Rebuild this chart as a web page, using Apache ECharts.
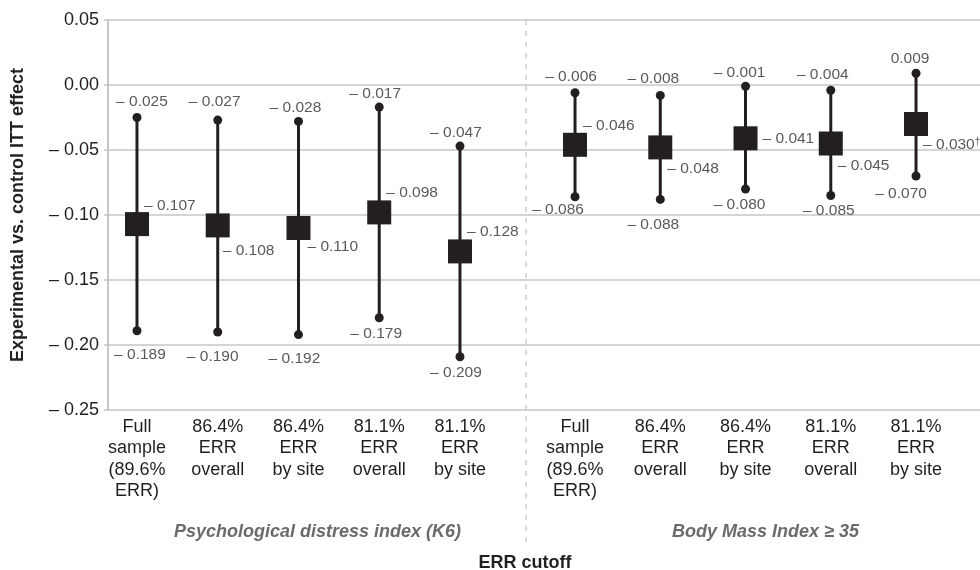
<!DOCTYPE html>
<html>
<head>
<meta charset="utf-8">
<script src="https://cdn.jsdelivr.net/npm/echarts@6/dist/echarts.min.js"></script>
<style>
  html, body { margin: 0; padding: 0; background: #fff; }
  #chart { width: 980px; height: 570px; }
</style>
</head>
<body>
<div id="chart"></div>
<script>
// ERR cutoff categories, shared by both outcome panels
const categories = [
  'Full\nsample\n(89.6%\nERR)',
  '86.4%\nERR\noverall',
  '86.4%\nERR\nby site',
  '81.1%\nERR\noverall',
  '81.1%\nERR\nby site'
];
const groupNames = ['Psychological distress index (K6)', 'Body Mass Index \u2265 35'];

// Psychological distress index (K6): upper CI, ITT effect, lower CI
const k6Upper  = [-0.025, -0.027, -0.028, -0.017, -0.047];
const k6Effect = [-0.107, -0.108, -0.110, -0.098, -0.128];
const k6Lower  = [-0.189, -0.190, -0.192, -0.179, -0.209];

// Body Mass Index >= 35: upper CI, ITT effect, lower CI
const bmiUpper  = [-0.006, -0.008, -0.001, -0.004, 0.009];
const bmiEffect = [-0.046, -0.048, -0.041, -0.045, -0.030];
const bmiLower  = [-0.086, -0.088, -0.080, -0.085, -0.070];
const bmiNotes  = ['', '', '', '', '\u2020'];

// value axis
const yMin = -0.25, yMax = 0.05, yStep = 0.05;

// label nudges [dx, dy] so numbers stay clear of the bars and gridlines
const k6UpperOff   = [[5,-16],[-3,-18],[-3,-14],[-4,-13],[-4,-13]];
const k6LowerOff   = [[3,24],[-5,25],[-4,24],[-3,16],[-4,16]];
const k6EffectOff  = [[-5,-18],[-7,25],[-3,19],[-5,-20],[-5,-20]];
const bmiUpperOff  = [[-4,-16],[-7,-17],[-6,-14],[-8,-15],[-6,-15]];
const bmiLowerOff  = [[-17,13],[-7,25],[-6,16],[-2,15],[-15,18]];
const bmiEffectOff = [[-4,-19],[-5,21],[5,0],[-5,22],[-5,21]];

const FONT = "'Liberation Sans', Arial, Helvetica, sans-serif";
const INK = '#231f20';
const GRID_GREY = '#c6c6c6';
const LABEL_GREY = '#5a5a5a';

function fmt(v) {
  const s = Math.abs(v).toFixed(3);
  return v < 0 ? '\u2013 ' + s : s;
}

function panelSeries(idx, upper, effect, lower, notes, upOff, loOff, efOff) {
  const axis = { xAxisIndex: idx, yAxisIndex: idx };
  const valueLabel = { fontFamily: FONT, fontSize: 15.5, color: LABEL_GREY };
  const mark = { color: INK, opacity: 1 };
  return [
    {
      type: 'custom', ...axis, z: 2,
      data: categories.map((c, i) => [i, lower[i], upper[i]]),
      encode: { x: 0, y: [1, 2] },
      renderItem: function (params, api) {
        const a = api.coord([api.value(0), api.value(1)]);
        const b = api.coord([api.value(0), api.value(2)]);
        return { type: 'line', shape: { x1: a[0], y1: a[1], x2: b[0], y2: b[1] },
                 style: { stroke: INK, lineWidth: 3 } };
      }
    },
    {
      type: 'scatter', ...axis, z: 3, symbol: 'circle', symbolSize: 9,
      itemStyle: mark,
      data: upper.map((v, i) => ({ value: [i, v], label: { offset: upOff[i] } })),
      label: { show: true, position: 'inside', ...valueLabel, formatter: p => fmt(p.value[1]) }
    },
    {
      type: 'scatter', ...axis, z: 3, symbol: 'circle', symbolSize: 9,
      itemStyle: mark,
      data: lower.map((v, i) => ({ value: [i, v], label: { offset: loOff[i] } })),
      label: { show: true, position: 'inside', ...valueLabel, formatter: p => fmt(p.value[1]) }
    },
    {
      type: 'scatter', ...axis, z: 4, symbol: 'rect', symbolSize: 24,
      itemStyle: mark,
      data: effect.map((v, i) => ({ value: [i, v], label: { offset: efOff[i] } })),
      label: {
        show: true, position: 'right', distance: 0, align: 'left', verticalAlign: 'middle',
        ...valueLabel,
        formatter: p => '{v|' + fmt(p.value[1]) + '}' + (notes[p.dataIndex] ? '{n|' + notes[p.dataIndex] + '}' : ''),
        rich: {
          v: { ...valueLabel },
          n: { fontFamily: FONT, fontSize: 10, color: LABEL_GREY, padding: [0, 0, 5, 0] }
        }
      }
    }
  ];
}

function hiddenY(idx) {
  return { type: 'value', gridIndex: idx, min: yMin, max: yMax, interval: yStep, show: false };
}

function groupX(idx, name, shift) {
  return {
    type: 'category', gridIndex: idx, data: categories, boundaryGap: true,
    axisLine: { show: false }, axisTick: { show: false }, splitLine: { show: false },
    axisLabel: { fontFamily: FONT, fontSize: 18, lineHeight: 21.5, color: INK, margin: 6, interval: 0 },
    name: name, nameLocation: 'middle', nameGap: 113,
    nameTextStyle: { fontFamily: FONT, fontSize: 18, fontWeight: 'bold', fontStyle: 'italic',
                     color: '#6b6b6b', padding: [0, 0, 0, shift] }
  };
}

const gridBase = { top: 20, bottom: 160, outerBoundsMode: 'none', containLabel: false };

const chart = echarts.init(document.getElementById('chart'), null, { renderer: 'canvas' });
chart.setOption({
  animation: false,
  backgroundColor: '#fff',
  grid: [
    { ...gridBase, left: 108, right: 0 },
    { ...gridBase, left: 96.6, width: 403.75 },
    { ...gridBase, left: 532.4, width: 426.25 }
  ],
  xAxis: [
    { type: 'value', gridIndex: 0, show: false, min: 0, max: 1 },
    groupX(1, groupNames[0], 38),
    groupX(2, groupNames[1], 40)
  ],
  yAxis: [
    {
      type: 'value', gridIndex: 0, min: yMin, max: yMax, interval: yStep,
      axisLine: { show: true, lineStyle: { color: GRID_GREY, width: 2 } },
      axisTick: { show: true, length: 4, lineStyle: { color: GRID_GREY, width: 1.5 } },
      splitLine: { show: true, lineStyle: { color: GRID_GREY, width: 1.5 } },
      axisLabel: {
        fontFamily: FONT, fontSize: 18, color: INK, margin: 9,
        formatter: v => (Math.abs(v) < 1e-9 ? '0.00' : (v < 0 ? '\u2013 ' + Math.abs(v).toFixed(2) : v.toFixed(2)))
      },
      name: 'Experimental vs. control ITT effect', nameLocation: 'middle', nameGap: 81,
      nameTextStyle: { fontFamily: FONT, fontSize: 18, fontWeight: 'bold', color: INK }
    },
    hiddenY(1),
    hiddenY(2)
  ],
  graphic: [
    { type: 'line', z: 1, shape: { x1: 526, y1: 20, x2: 526, y2: 547 },
      style: { stroke: '#b5b5b5', lineWidth: 1, lineDash: [5, 6] } },
    { type: 'text', x: 525, y: 563,
      style: { text: 'ERR cutoff', font: 'bold 18px ' + FONT, fill: INK, textAlign: 'center', textVerticalAlign: 'middle' } }
  ],
  series: [
    ...panelSeries(1, k6Upper, k6Effect, k6Lower, ['', '', '', '', ''], k6UpperOff, k6LowerOff, k6EffectOff),
    ...panelSeries(2, bmiUpper, bmiEffect, bmiLower, bmiNotes, bmiUpperOff, bmiLowerOff, bmiEffectOff)
  ]
});
</script>
</body>
</html>
